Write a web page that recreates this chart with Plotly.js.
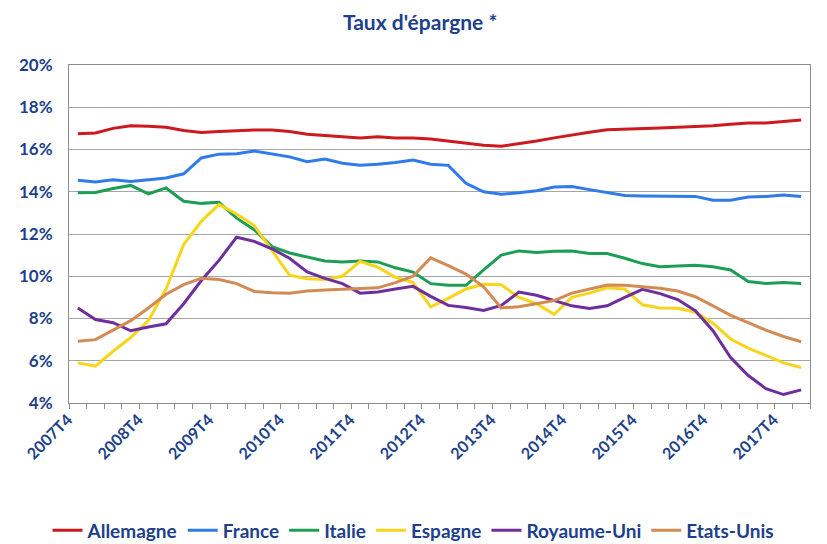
<!DOCTYPE html>
<html>
<head>
<meta charset="utf-8">
<script src="https://cdn.plot.ly/plotly-3.0.1.min.js"></script>
<style>html,body{margin:0;padding:0;background:#fff;}#chart{width:827px;height:544px;}</style>
</head>
<body>
<div id="chart"></div>
<script>
// Quarters 2007T4 .. 2018T1
const quarters = [
  "2007T4",
  "2008T1","2008T2","2008T3","2008T4",
  "2009T1","2009T2","2009T3","2009T4",
  "2010T1","2010T2","2010T3","2010T4",
  "2011T1","2011T2","2011T3","2011T4",
  "2012T1","2012T2","2012T3","2012T4",
  "2013T1","2013T2","2013T3","2013T4",
  "2014T1","2014T2","2014T3","2014T4",
  "2015T1","2015T2","2015T3","2015T4",
  "2016T1","2016T2","2016T3","2016T4",
  "2017T1","2017T2","2017T3","2017T4",
  "2018T1"
];
const tickLabels = ["2007T4","2008T4","2009T4","2010T4","2011T4","2012T4","2013T4","2014T4","2015T4","2016T4","2017T4"];

const allemagne = [16.75,16.78,17.0,17.12,17.1,17.05,16.9,16.8,16.85,16.9,
  16.92,16.92,16.85,16.72,16.65,16.6,16.55,16.6,16.55,16.55,
  16.5,16.4,16.3,16.2,16.15,16.27,16.4,16.55,16.7,16.82,
  16.93,16.97,17.0,17.02,17.05,17.08,17.12,17.2,17.25,17.26,
  17.32,17.4];
const france = [14.54,14.46,14.57,14.48,14.57,14.65,14.85,15.6,15.78,15.8,
  15.93,15.8,15.65,15.42,15.55,15.35,15.25,15.3,15.38,15.5,
  15.3,15.25,14.4,14.0,13.88,13.95,14.05,14.22,14.25,14.1,
  13.95,13.82,13.8,13.8,13.8,13.78,13.6,13.6,13.75,13.78,
  13.85,13.78];
const italie = [13.95,13.97,14.15,14.3,13.9,14.18,13.55,13.45,13.5,12.75,
  12.2,11.4,11.1,10.9,10.72,10.68,10.72,10.68,10.4,10.2,
  9.65,9.57,9.57,10.3,11.0,11.2,11.12,11.18,11.2,11.08,
  11.08,10.85,10.6,10.45,10.5,10.52,10.45,10.3,9.75,9.66,
  9.7,9.66];
const espagne = [5.9,5.75,6.45,7.1,7.9,9.4,11.5,12.6,13.4,12.95,
  12.4,11.2,10.05,9.88,9.85,10.0,10.7,10.43,9.95,9.7,
  8.55,8.95,9.4,9.62,9.6,9.0,8.7,8.2,9.0,9.2,
  9.45,9.4,8.65,8.5,8.48,8.3,7.78,7.03,6.6,6.25,
  5.9,5.68];
const royaumeUni = [8.5,7.95,7.8,7.42,7.6,7.75,8.7,9.8,10.75,11.85,
  11.65,11.3,10.85,10.2,9.9,9.65,9.2,9.25,9.4,9.52,
  9.05,8.62,8.52,8.38,8.62,9.25,9.1,8.85,8.6,8.47,
  8.6,9.0,9.38,9.18,8.9,8.37,7.42,6.15,5.3,4.68,
  4.4,4.62];
const etatsUnis = [6.92,7.0,7.45,7.9,8.5,9.15,9.6,9.9,9.85,9.65,
  9.28,9.22,9.2,9.3,9.35,9.4,9.42,9.45,9.7,10.0,
  10.87,10.5,10.1,9.5,8.5,8.56,8.7,8.85,9.2,9.4,
  9.58,9.57,9.5,9.43,9.3,9.03,8.6,8.15,7.8,7.45,
  7.15,6.9];

const seriesNames = ["Allemagne","France","Italie","Espagne","Royaume-Uni","Etats-Unis"];
const seriesData = [allemagne, france, italie, espagne, royaumeUni, etatsUnis];
const seriesColors = ["#CC1A1E","#2F7BEA","#1E9E55","#F7D51B","#6E2E9C","#D28B55"];

const navy = "#203F8A";
const fontFam = "Lato, 'Open Sans', 'Liberation Sans', sans-serif";

const traces = seriesNames.map((n, k) => ({
  type: "scatter", mode: "lines", name: n,
  x: quarters, y: seriesData[k],
  line: {color: seriesColors[k], width: 3},
  hoverinfo: "skip"
}));

const tickText = quarters.map(q => tickLabels.includes(q) ? q : "");

const layout = {
  width: 827, height: 544,
  margin: {l: 69, r: 17, t: 65, b: 141},
  paper_bgcolor: "#fff", plot_bgcolor: "#fff",
  font: {family: fontFam, color: navy},
  title: {
    text: "<b>Taux d'épargne *</b>",
    font: {family: fontFam, size: 21, color: navy},
    xref: "container", x: 0.508, xanchor: "center",
    yref: "container", y: 0.958, yanchor: "middle"
  },
  showlegend: true,
  legend: {
    orientation: "h", xref: "container", yref: "container",
    x: 0.5, xanchor: "center", y: 0.025, yanchor: "middle",
    font: {family: fontFam, size: 19, color: navy, weight: "bold"},
    itemwidth: 30, tracegroupgap: 0
  },
  xaxis: {
    type: "category",
    tickmode: "array", tickvals: quarters, ticktext: tickText,
    tickson: "boundaries",
    ticks: "outside", ticklen: 5, tickcolor: "#8C8C8C", tickwidth: 1,
    tickangle: -45, ticklabelshift: -10,
    tickfont: {family: fontFam, size: 16, color: navy, weight: "bold"},
    showgrid: false,
    showline: true, linecolor: "#8C8C8C", linewidth: 1, mirror: true,
    range: [-0.5, quarters.length - 0.5],
    zeroline: false
  },
  yaxis: {
    range: [4, 20], tickmode: "linear", tick0: 4, dtick: 2,
    ticksuffix: "%",
    tickfont: {family: fontFam, size: 17, color: navy, weight: "bold"},
    showgrid: true, gridcolor: "#A6A6A6", gridwidth: 1,
    showline: true, linecolor: "#8C8C8C", linewidth: 1, mirror: true,
    ticks: "", ticklabelstandoff: 12,
    zeroline: false
  }
};

Plotly.newPlot("chart", traces, layout, {staticPlot: true, displayModeBar: false});
</script>
</body>
</html>
